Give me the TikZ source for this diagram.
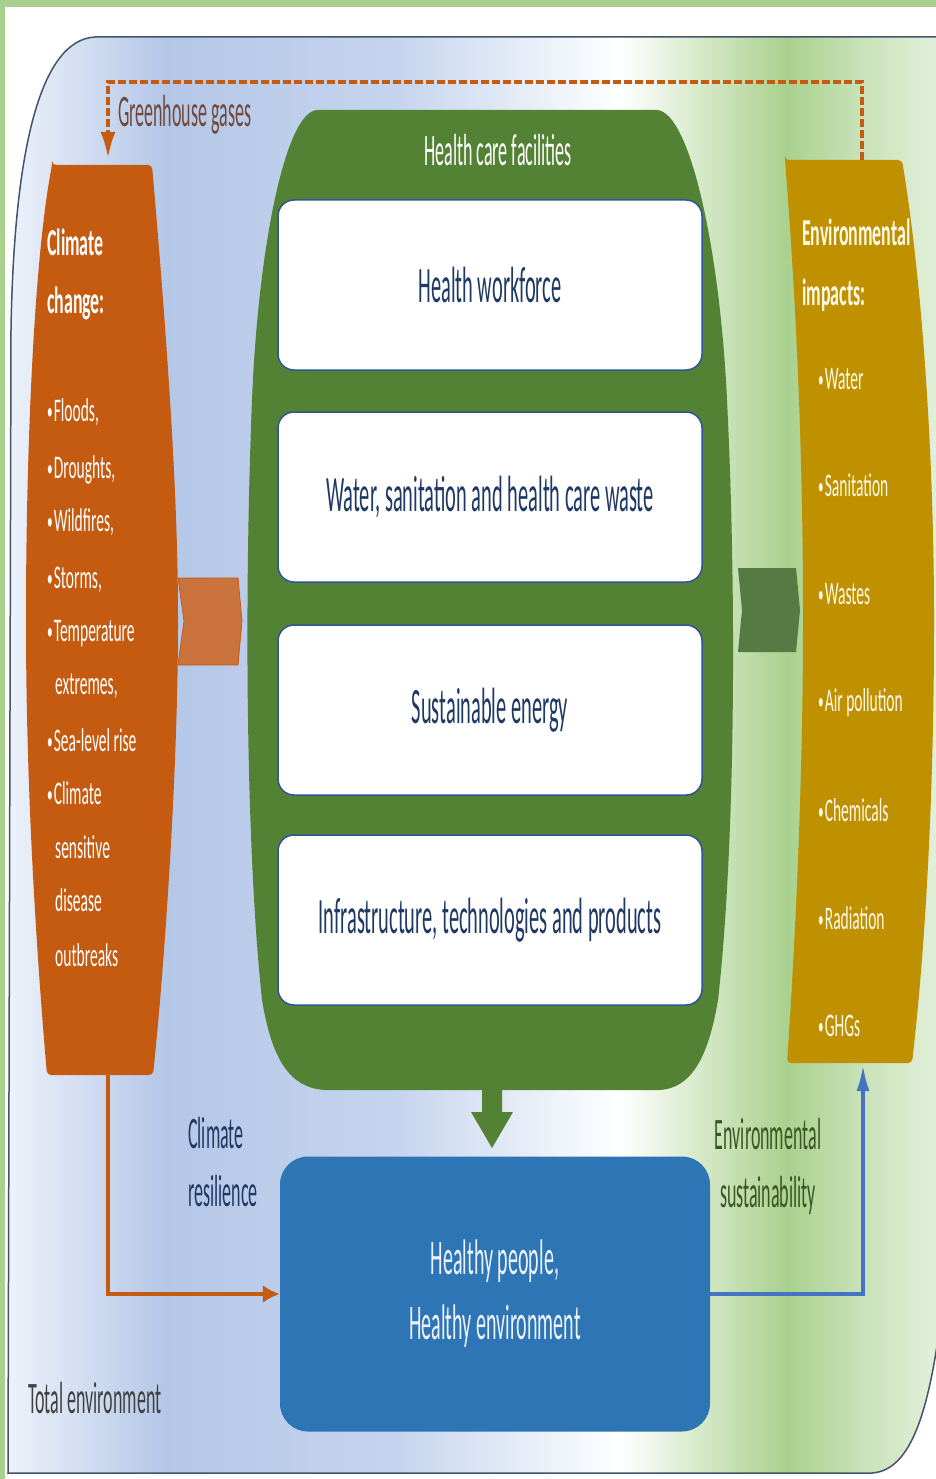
\documentclass[tikz,border=0pt]{standalone}
\usepackage{fontspec}
\setmainfont{Carlito}
\newfontfamily\narrowfont[FakeStretch=0.40]{Carlito}
\newfontfamily\sidefont[FakeStretch=0.47]{Carlito}
\usetikzlibrary{arrows,arrows.meta,positioning}

\definecolor{ccorange}{RGB}{197,90,17}
\definecolor{chevorange}{RGB}{203,115,60}
\definecolor{hcgreen}{RGB}{84,130,53}
\definecolor{chevgreen}{RGB}{86,122,68}
\definecolor{envgold}{RGB}{191,144,0}
\definecolor{hpblue}{RGB}{46,117,182}
\definecolor{hptext}{RGB}{236,242,250}
\definecolor{linkblue}{RGB}{68,114,196}
\definecolor{navytext}{RGB}{31,56,100}
\definecolor{boxline}{RGB}{47,85,151}
\definecolor{framegray}{RGB}{68,84,106}
\definecolor{pagegreen}{RGB}{169,209,142}
\definecolor{bluepeak}{RGB}{180,199,231}
\definecolor{bluepale}{RGB}{198,213,238}
\definecolor{blueedge}{RGB}{240,244,251}
\definecolor{greenpeak}{RGB}{169,209,142}
\definecolor{greenpale}{RGB}{200,226,184}
\definecolor{greenedge}{RGB}{240,247,236}
\definecolor{ghgtext}{RGB}{112,72,60}
\definecolor{sustgreen}{RGB}{56,87,35}
\definecolor{totalgray}{RGB}{64,64,64}
\definecolor{cream}{RGB}{255,250,232}

\newcommand\itemdot{{\fontsize{24}{24}\selectfont\raisebox{2pt}{•}}\hspace{1pt}}

\tikzset{
  facbox/.style={draw=boxline, line width=1.5pt, fill=white, rounded corners=16pt,
    minimum width=424pt, minimum height=170pt, text=navytext,
    font=\narrowfont\fontsize{51}{60}\selectfont},
  sidehead/.style={anchor=base west, inner sep=0pt, text=white,
    font=\sidefont\bfseries\fontsize{38}{45}\selectfont},
  sideitem/.style={anchor=base west, inner sep=0pt, text=white,
    font=\sidefont\fontsize{33}{40}\selectfont},
  linklabel/.style={inner sep=0pt, font=\narrowfont\fontsize{45}{58}\selectfont},
  linkline/.style={line width=3.5pt},
}

\begin{document}
\begin{tikzpicture}[x=1pt,y=-1pt,>=latex']
	\useasboundingbox (0,0) rectangle (936,1479);
	\clip (0,0) rectangle (936,1479);
	% page
	\fill[white] (0,0) rectangle (936,1479);
	\fill[pagegreen] (0,0) rectangle (936,7);
	\fill[pagegreen] (0,0) rectangle (5,1479);
	% total environment frame
	\def\framepath{(8,1473) -- (11,330) .. controls (14,150) and (40,40) .. (95,37)
		-- (980,37) -- (980,1000) -- (948,1250) .. controls (935,1400) and (915,1470) .. (872,1473) -- cycle}
	\begin{scope}
		\clip \framepath;
		\fill[left color=blueedge, right color=bluepeak] (0,0) rectangle (165,1479);
		\fill[left color=bluepeak, right color=bluepale] (165,0) rectangle (400,1479);
		\fill[left color=bluepale, right color=white] (400,0) rectangle (620,1479);
		\fill[left color=white, right color=greenpeak] (620,0) rectangle (787,1479);
		\fill[left color=greenpeak, right color=greenpale] (787,0) rectangle (860,1479);
		\fill[left color=greenpale, right color=greenedge] (860,0) rectangle (980,1479);
	\end{scope}
	\draw[framegray, line width=1.5pt] \framepath;

	% health care facilities
	\fill[hcgreen] (317,110) -- (657,110) .. controls (690,112) and (720,250) .. (727,400)
		.. controls (737,600) and (735,850) .. (718,1000) .. controls (708,1060) and (690,1088) .. (660,1090)
		-- (325,1090) .. controls (290,1088) and (272,1060) .. (262,1000)
		.. controls (246,850) and (244,600) .. (252,400) .. controls (258,250) and (285,112) .. (317,110) -- cycle;
	\node[linklabel, text=white] (hcf) at (498,150) {Health care facilities};
	\foreach \y/\name/\txt in {285/hw/Health workforce, 497/wash/{Water, sanitation and health care waste},
		710/energy/Sustainable energy, 920/infra/{Infrastructure, technologies and products}}
		\node[facbox] (\name) at (490,\y) {\txt};
	\fill[hcgreen] (482,1085) -- (502,1085) -- (502,1112) -- (513,1112) -- (492,1148)
		-- (471,1112) -- (482,1112) -- cycle;

	% climate change
	\fill[ccorange, rounded corners=4pt] (52,165) -- (152,165) .. controls (168,350) and (178,500) .. (178,620)
		.. controls (178,760) and (166,950) .. (153,1075) -- (47,1075)
		.. controls (32,900) and (26,750) .. (26,620) .. controls (26,450) and (34,260) .. (52,165) -- cycle;
	\node[sidehead] (cc1) at (47,255) {Climate};
	\node[sidehead] (cc2) at (47,313) {change:};
	\foreach \y/\x/\txt in {421/47/{\itemdot Floods,}, 478/47/{\itemdot Droughts,}, 531/47/{\itemdot Wildfires,},
		588/47/{\itemdot Storms,}, 641/47/{\itemdot Temperature}, 694/55/{extremes,},
		751/47/{\itemdot Sea-level rise}, 804/47/{\itemdot Climate},
		858/55/{sensitive}, 911/55/{disease}, 966/55/{outbreaks}}
		\node[sideitem] (cc\y) at (\x,\y) {\txt};
	\fill[chevorange, draw=ccorange, line width=0.8pt] (178,578) -- (238,578) -- (242,621) -- (238,665)
		-- (178,665) -- (184,621) -- cycle;

	% environmental impacts
	\fill[envgold, rounded corners=4pt] (785,160) -- (902,160) .. controls (925,300) and (934,480) .. (934,620)
		.. controls (934,800) and (925,950) .. (912,1063) -- (787,1063)
		.. controls (798,900) and (803,750) .. (803,620) .. controls (803,450) and (796,300) .. (785,160) -- cycle;
	\node[sidehead, text=cream] (ei1) at (802,246) {Environmental};
	\node[sidehead, text=cream] (ei2) at (802,305) {impacts:};
	\foreach \y/\txt in {389/Water, 496/Sanitation, 604/Wastes, 711/Air pollution, 821/Chemicals,
		929/Radiation, 1036/GHGs}
		\node[sideitem, text=cream] (imp\y) at (818,\y) {\itemdot\txt};
	\fill[chevgreen] (738,568) -- (796,568) -- (800,610) -- (796,652) -- (738,652) -- (742,610) -- cycle;

	% healthy people
	\node[fill=hpblue, rounded corners=28pt, minimum width=430pt, minimum height=275pt,
		align=center, text=hptext, font=\narrowfont\fontsize{50}{65}\selectfont] (hp) at (495,1294)
		{Healthy people,\\Healthy environment};

	% connectors
	\coordinate (cc in) at (108,158);
	\coordinate (cc out) at (108,1075);
	\coordinate (ei out) at (862,160);
	\coordinate (ei in) at (863,1065);
	\coordinate (ghg turn) at (862,82);
	\draw[linkline, ccorange, dash pattern=on 8pt off 3pt, -{Latex[length=26pt,width=15pt]}]
		(ei out) -- (ghg turn) -| (cc in);
	\draw[linkline, ccorange, -{Latex[length=17pt,width=18pt]}] (cc out) |- (hp.west);
	\draw[linkline, linkblue, -{Latex[length=26pt,width=13pt]}] (hp.east) -| (ei in);

	% labels
	\node[linklabel, text=ghgtext, anchor=west] (ghg) at (118,115) {Greenhouse gases};
	\node[linklabel, text=navytext, align=left, anchor=north west] (cr) at (188,1117) {Climate\\resilience};
	\node[linklabel, text=sustgreen, align=center] (es) at (768,1166) {Environmental\\sustainability};
	\node[linklabel, text=totalgray, anchor=west] (te) at (28,1398) {Total environment};
\end{tikzpicture}
\end{document}
